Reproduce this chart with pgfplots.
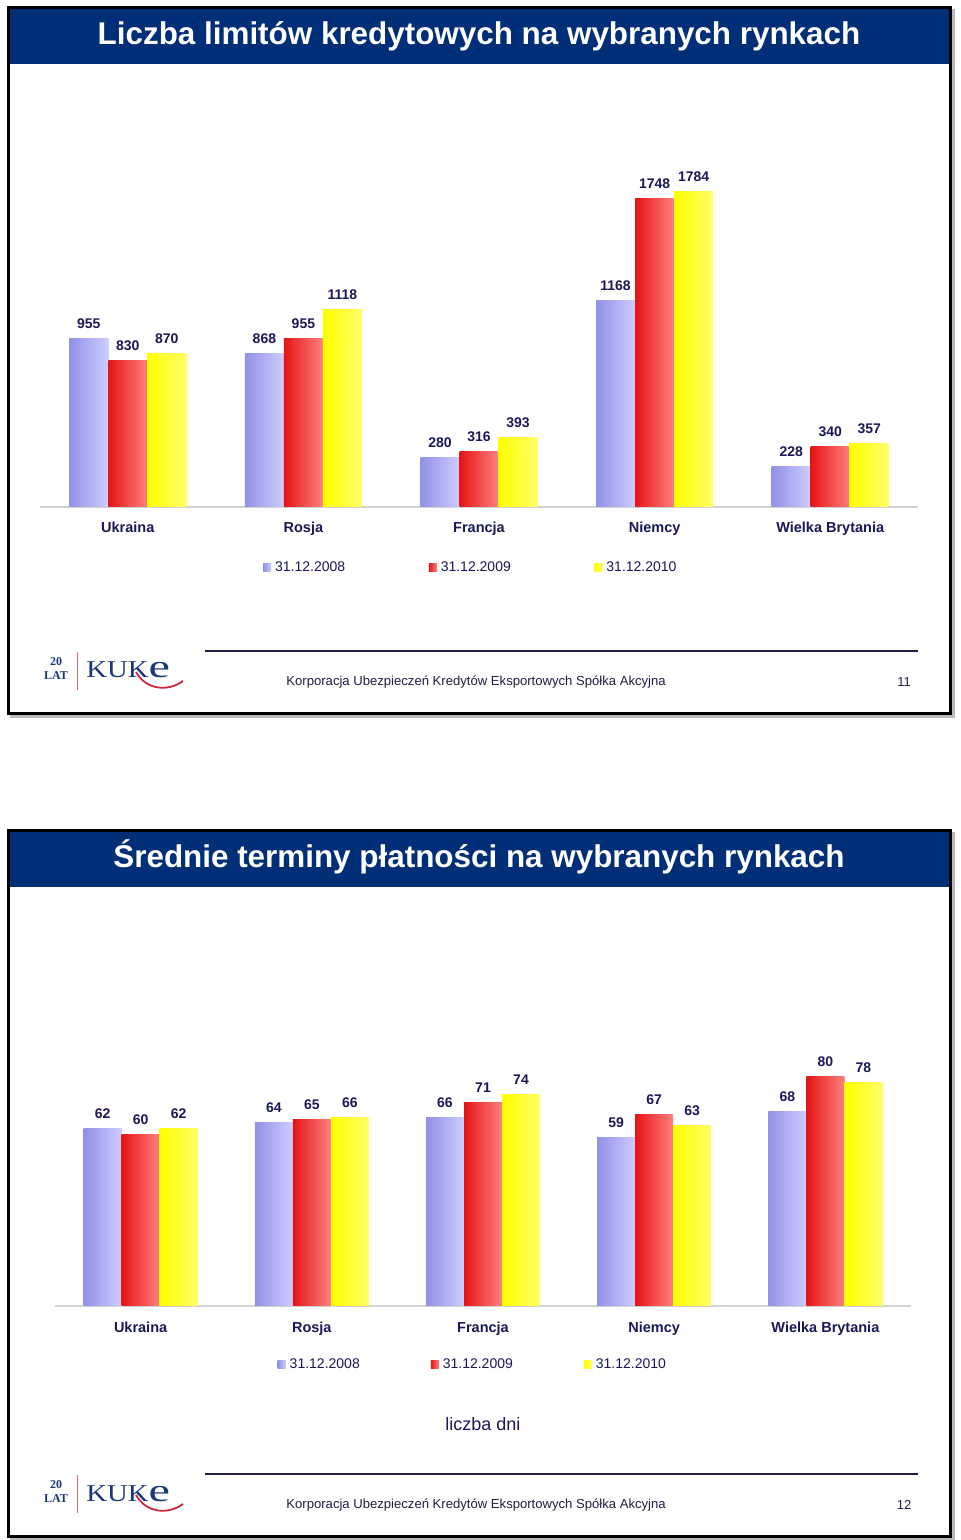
\documentclass[border=0pt]{standalone}
\usepackage{pgfplots}
\pgfplotsset{compat=1.18}
\usepackage{graphicx}
\usepackage{fontspec}
\setmainfont{Liberation Sans}
\newfontfamily\seriffont{Liberation Serif}
\definecolor{navy}{RGB}{0,47,120}
\definecolor{txt}{RGB}{25,25,90}
\definecolor{ftxt}{RGB}{30,30,70}
\definecolor{kred}{RGB}{205,40,55}
\definecolor{klogo}{RGB}{25,55,120}
\definecolor{b1}{RGB}{145,145,230}
\definecolor{b2}{RGB}{205,205,255}
\definecolor{r1}{RGB}{228,20,20}
\definecolor{r2}{RGB}{255,128,128}
\definecolor{y1}{RGB}{255,255,0}
\definecolor{y2}{RGB}{255,255,105}
\definecolor{axisgray}{RGB}{210,210,210}

\pgfplotsset{kuke/.style={
  scale only axis, ybar=0pt, clip=false,
  axis y line=none, axis x line=bottom,
  x axis line style={draw=axisgray,line width=0.6pt,-},
  xmin=-0.5, xmax=4.5, ymin=0, xtick={0,...,4},
  xticklabels={Ukraina,Rosja,Francja,Niemcy,Wielka Brytania},
  major tick length=0pt,
  xticklabel style={anchor=base,yshift=-13pt,font=\bfseries\fontsize{7.25}{8}\selectfont,text=txt},
  nodes near coords,
  every node near coord/.append style={anchor=center,yshift=7.4pt,font=\bfseries\fontsize{7}{8}\selectfont,text=txt},
  /pgf/number format/assume math mode=true,
  /pgf/number format/1000 sep={},
  legend columns=3,
  legend image code/.code={\path[##1,draw=none] (0pt,-2pt) rectangle (4pt,2pt);},
  sb/.style={draw=none,left color=b1,right color=b2},
  sr/.style={draw=none,left color=r1,right color=r2},
  sy/.style={draw=none,left color=y1,right color=y2},
}}

\newcommand\slide[3]{%
  \begin{scope}[yshift=#1]
    \draw[gray!55,line width=1.5pt] (5.5pt,411.5pt) rectangle (476.5pt,764.5pt);
    \fill[white] (4pt,413pt) rectangle (475pt,766pt);
    \fill[navy] (4.75pt,738pt) rectangle (475pt,765.5pt);
    \draw[black,line width=1.5pt] (4pt,413pt) rectangle (475pt,766pt);
    \node[anchor=base,text=white,font=\bfseries\fontsize{15.7}{18}\selectfont] at (239.5pt,747.5pt) {#2};
    % footer
    \draw[ftxt,line width=0.7pt] (102.5pt,444.5pt) -- (459pt,444.5pt);
    \node[anchor=west,inner sep=0pt,text=ftxt,font=\fontsize{6.55}{8}\selectfont] at (143pt,429pt) {Korporacja Ubezpieczeń Kredytów Eksportowych Spółka Akcyjna};
    \node[inner sep=0pt,text=ftxt,font=\fontsize{6.5}{8}\selectfont] at (452pt,429pt) {#3};
    % logo
    \node[inner sep=0pt,text=klogo,font=\seriffont\bfseries\fontsize{6}{6}\selectfont] at (28pt,439pt) {20};
    \node[inner sep=0pt,text=klogo,font=\seriffont\bfseries\fontsize{6}{6}\selectfont] at (28pt,432pt) {LAT};
    \draw[kred!70,line width=0.5pt] (38.5pt,444pt) -- (38.5pt,425pt);
    \node[anchor=base west,inner sep=0pt,text=klogo,font=\seriffont\fontsize{11.5}{12}\selectfont] at (43pt,431pt) {\scalebox{1.25}[1.05]{KUK}\scalebox{2.1}[1.4]{e}};
    \draw[kred,line width=0.9pt] (68pt,434pt) .. controls (73pt,425pt) and (84pt,424pt) .. (91.5pt,429.5pt);
  \end{scope}}

\begin{document}
\begin{tikzpicture}
\useasboundingbox (0,0) rectangle (480pt,770pt);
\fill[white] (0,0) rectangle (480pt,770pt);
\slide{0pt}{Liczba limitów kredytowych na wybranych rynkach}{11}
\slide{-411.5pt}{Średnie terminy płatności na wybranych rynkach}{12}

% ---------------- chart 1: Liczba limitow ----------------
\begin{axis}[kuke,
  at={(20pt,516.5pt)}, anchor=south west,
  width=439pt, height=203.5pt, ymax=2305,
  bar width=19.5pt,
  legend style={at={(0.4918,0)},anchor=center,yshift=-30.5pt,draw=none,fill=none,
    font=\fontsize{7}{8}\selectfont,text=txt,
    /tikz/every even column/.append style={column sep=39.8pt}},
]
\addlegendimage{sb}
\addlegendimage{sr}
\addlegendimage{sy}
% 31.12.2008
\addplot[sb,bar shift=-19.5pt] coordinates {(0,955)};
\addplot[sb,bar shift=-19.5pt] coordinates {(1,868)};
\addplot[sb,bar shift=-19.5pt] coordinates {(2,280)};
\addplot[sb,bar shift=-19.5pt] coordinates {(3,1168)};
\addplot[sb,bar shift=-19.5pt] coordinates {(4,228)};
% 31.12.2009
\addplot[sr,bar shift=0pt] coordinates {(0,830)};
\addplot[sr,bar shift=0pt] coordinates {(1,955)};
\addplot[sr,bar shift=0pt] coordinates {(2,316)};
\addplot[sr,bar shift=0pt] coordinates {(3,1748)};
\addplot[sr,bar shift=0pt] coordinates {(4,340)};
% 31.12.2010
\addplot[sy,bar shift=19.5pt] coordinates {(0,870)};
\addplot[sy,bar shift=19.5pt] coordinates {(1,1118)};
\addplot[sy,bar shift=19.5pt] coordinates {(2,393)};
\addplot[sy,bar shift=19.5pt] coordinates {(3,1784)};
\addplot[sy,bar shift=19.5pt] coordinates {(4,357)};
\legend{31.12.2008,31.12.2009,31.12.2010}
\end{axis}

% ---------------- chart 2: Srednie terminy ----------------
\begin{axis}[kuke,
  at={(27.5pt,117pt)}, anchor=south west,
  width=428pt, height=203pt, ymax=141.8,
  bar width=19pt,
  xlabel={liczba dni},
  xlabel style={at={(axis description cs:0.5,0)},anchor=center,yshift=-59pt,font=\fontsize{9}{11}\selectfont,text=txt},
  legend style={at={(0.4893,0)},anchor=center,yshift=-29.5pt,draw=none,fill=none,
    font=\fontsize{7}{8}\selectfont,text=txt,
    /tikz/every even column/.append style={column sep=33.5pt}},
]
\addlegendimage{sb}
\addlegendimage{sr}
\addlegendimage{sy}
% 31.12.2008
\addplot[sb,bar shift=-19pt] coordinates {(0,62)};
\addplot[sb,bar shift=-19pt] coordinates {(1,64)};
\addplot[sb,bar shift=-19pt] coordinates {(2,66)};
\addplot[sb,bar shift=-19pt] coordinates {(3,59)};
\addplot[sb,bar shift=-19pt] coordinates {(4,68)};
% 31.12.2009
\addplot[sr,bar shift=0pt] coordinates {(0,60)};
\addplot[sr,bar shift=0pt] coordinates {(1,65)};
\addplot[sr,bar shift=0pt] coordinates {(2,71)};
\addplot[sr,bar shift=0pt] coordinates {(3,67)};
\addplot[sr,bar shift=0pt] coordinates {(4,80)};
% 31.12.2010
\addplot[sy,bar shift=19pt] coordinates {(0,62)};
\addplot[sy,bar shift=19pt] coordinates {(1,66)};
\addplot[sy,bar shift=19pt] coordinates {(2,74)};
\addplot[sy,bar shift=19pt] coordinates {(3,63)};
\addplot[sy,bar shift=19pt] coordinates {(4,78)};
\legend{31.12.2008,31.12.2009,31.12.2010}
\end{axis}
\end{tikzpicture}
\end{document}
